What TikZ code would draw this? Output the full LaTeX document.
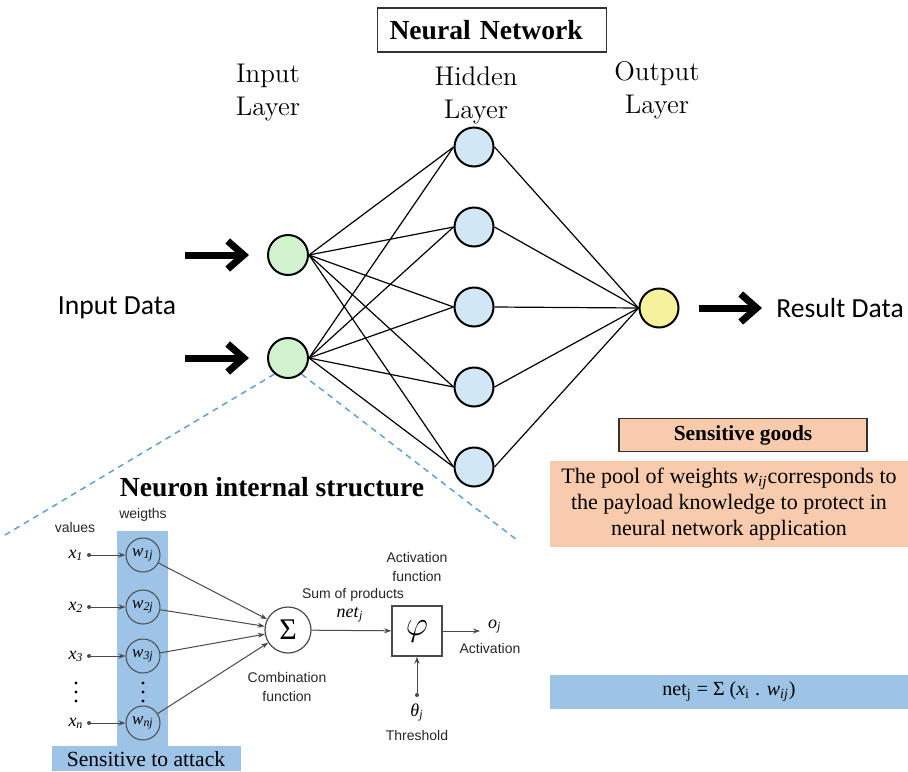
\documentclass[tikz,border=0pt]{standalone}
\usepackage{fontspec}
\usetikzlibrary{arrows.meta}
\newfontfamily\tnr{Liberation Serif}
\newfontfamily\calfont{Carlito}
\newfontfamily\arialfont{Liberation Sans}
\definecolor{nngreen}{HTML}{D0F2CF}
\definecolor{nnblue}{HTML}{D2E7F6}
\definecolor{nnyellow}{HTML}{F6F19C}
\definecolor{peach}{HTML}{F8CBAD}
\definecolor{attackblue}{HTML}{9DC3E6}
\definecolor{dashblue}{HTML}{5B9BD5}
\definecolor{wire}{HTML}{4A4A4A}
\newcommand{\isub}[2]{\textit{#1}\textsubscript{\textit{#2}}}
\begin{document}
\begin{tikzpicture}[x=0.5pt, y=-0.5pt,
	neuron/.style={circle, draw, line width=1pt, minimum size=19.5pt, inner sep=0pt},
	link/.style={line width=0.6pt},
	bigarrow/.style={line width=3.5pt, -{Straight Barb[length=8pt,width=14pt]}},
	layer/.style={align=center, font=\fontsize{13.5}{16.5}\selectfont},
	datalabel/.style={font=\calfont\fontsize{13.8}{16}\selectfont},
	wnode/.style={circle, draw=wire, line width=0.5pt, minimum size=17pt, inner sep=0pt, font=\tnr\fontsize{8.5}{10}\selectfont},
	small/.style={font=\arialfont\fontsize{7}{9.5}\selectfont, align=center, text=black!85},
	wirearrow/.style={draw=wire, line width=0.5pt, -{Stealth[length=3.5pt,width=2.5pt]}},
	vtext/.style={font=\tnr\fontsize{9}{10}\selectfont}]
\useasboundingbox (0,0) rectangle (908,771);

% Titel
\node[draw=black!80, line width=0.6pt, text width=102.5pt, inner xsep=6pt, minimum height=22pt, align=left,
	font=\tnr\bfseries\fontsize{13.8}{15}\selectfont] (title) at (492,30) {Neural Network};
\node[layer] (lin) at (268,93) {Input\\Layer};
\node[layer] (lhid) at (476,95) {Hidden\\Layer};
\node[layer] (lout) at (657,90) {Output\\Layer};

% Netz
\node[neuron, fill=nngreen, minimum size=20pt] (i1) at (288,255) {};
\node[neuron, fill=nngreen, minimum size=20pt] (i2) at (288,358) {};
\foreach \h/\y in {1/147,2/227,3/307,4/387,5/467}
	\node[neuron, fill=nnblue] (h\h) at (474,\y) {};
\node[neuron, fill=nnyellow] (o) at (659,308) {};
\foreach \i in {1,2}
	\foreach \h in {1,...,5}
		\draw[link] (i\i.east) -- (h\h.west);
\foreach \h in {1,...,5}
	\draw[link] (h\h.east) -- (o.west);

% Ein- und Ausgabe
\coordinate (in1) at (185,255);
\coordinate (in2) at (185,358);
\coordinate (res) at (762,308);
\draw[bigarrow, shorten >=9pt] (in1) -- (i1);
\draw[bigarrow, shorten >=9pt] (in2) -- (i2);
\draw[bigarrow, shorten <=9.5pt] (o) -- (res);
\node[datalabel] (indata) at (117,308) {Input Data};
\node[datalabel] (resdata) at (840,308) {Result Data};

% Lupe
\coordinate (zl) at (5,535);
\coordinate (zr) at (517,540);
\draw[dashblue, line width=0.7pt, dash pattern=on 3pt off 2.5pt] (i2.230) -- (zl);
\draw[dashblue, line width=0.7pt, dash pattern=on 3pt off 2.5pt] (i2.-50) -- (zr);
\node[font=\tnr\bfseries\fontsize{13.8}{15}\selectfont] (struct) at (272,487) {Neuron internal structure};

% Sensible Gewichte
\fill[attackblue] (117,531) rectangle (168,746);
\fill[attackblue] (52,746) rectangle (241,771);
\node[font=\tnr\fontsize{10.8}{13}\selectfont] (attack) at (146,759) {Sensitive to attack};
\node[small] (values) at (75,527) {values};
\node[small] (weigths) at (143,515) {weigths};

% Neuron
\node[circle, draw=wire, line width=0.6pt, minimum size=23pt, inner sep=0pt,
	font=\tnr\fontsize{15}{15}\selectfont] (sum) at (288,630) {Σ};
\node[draw=wire, line width=0.7pt, minimum size=25pt, inner sep=0pt] (act) at (417,631)
	{\fontsize{19}{19}\selectfont$\varphi$};
\foreach \k/\y/\s in {1/555/1,2/607/2,3/656/3,n/723/n} {
	\node[vtext] (x\k) at (76,\y) {\isub{x}{\s}};
	\coordinate (d\k) at (89,\y);
	\fill[wire] (d\k) circle (1pt);
	\node[wnode] (w\k) at (143,\y) {\isub{w}{\s j}};
	\draw[wirearrow] (d\k) -- (w\k);
	\draw[wirearrow] (w\k) -- (sum);
}
% Punkte
\foreach \y in {683,692,701} {
	\fill (76,\y) circle (0.8pt);
	\fill (143,\y) circle (0.8pt);
}

\draw[wirearrow] (sum) -- (act);
\node[small] (sumprod) at (353,595) {Sum of products};
\node[vtext] (net) at (350,615) {\isub{net}{j}};
\node[small] (comb) at (287,687) {Combination\\function};
\node[small] (actfun) at (417,567) {Activation\\function};

\coordinate (oj) at (480,631);
\draw[wirearrow] (act) -- (oj);
\node[vtext, anchor=west] (ojlab) at (481,627) {\isub{o}{j}};
\node[small] (actlab) at (490,648) {Activation};

\coordinate (thr) at (417,695);
\fill[wire] (thr) circle (1pt);
\draw[wirearrow] (thr) -- (act);
\node[vtext] (theta) at (417,712) {\isub{θ}{j}};
\node[small] (thrlab) at (417,735) {Threshold};

% Rechte Seite
\node[draw=black!80, line width=0.6pt, fill=peach, minimum width=124pt, minimum height=13pt,
	font=\tnr\bfseries\fontsize{10.7}{12}\selectfont] (goods) at (743,435) {Sensitive goods};
\node[fill=peach, minimum width=179pt, minimum height=41pt, align=center,
	font=\tnr\fontsize{11}{13}\selectfont] (pool) at (729,504)
	{The pool of weights \isub{w}{ij}corresponds to\\the payload knowledge to protect in\\neural network application};
\node[fill=attackblue, minimum width=179pt, minimum height=15pt,
	font=\tnr\fontsize{10}{12}\selectfont] (netbox) at (729,692)
	{net\textsubscript{j} = Σ (\textit{x}\textsubscript{i} . \isub{w}{ij})};
\end{tikzpicture}
\end{document}
